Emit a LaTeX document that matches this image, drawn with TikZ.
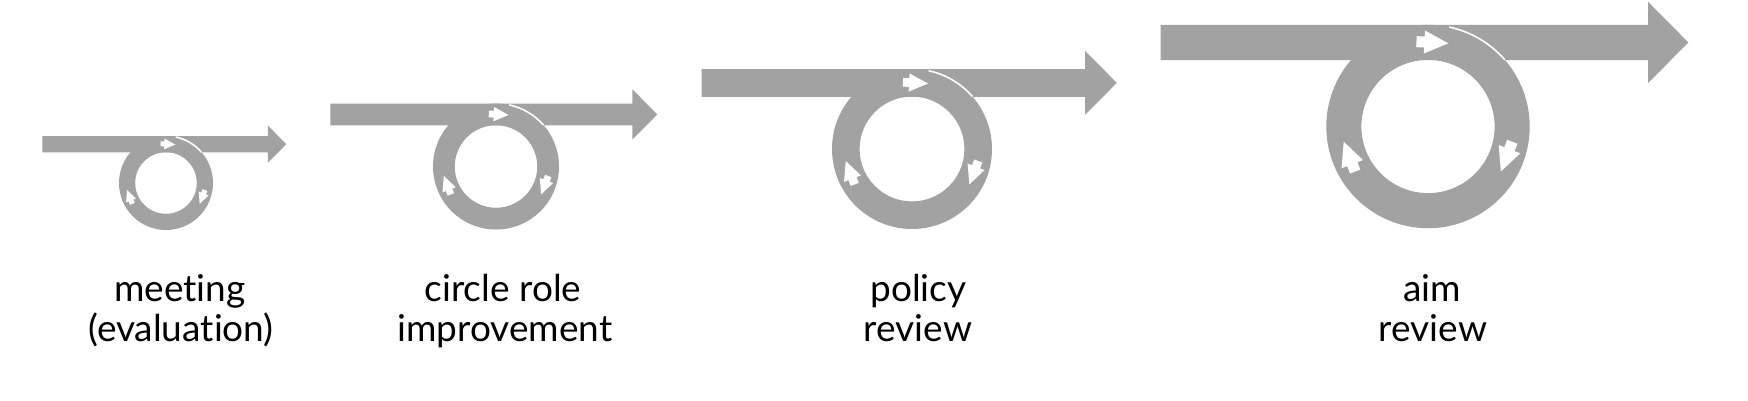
\documentclass[tikz,border=0pt]{standalone}
\usepackage{fontspec}
\setmainfont{Lato}[Ligatures=NoCommon]
\definecolor{loopgray}{RGB}{162,162,162}
\tikzset{
  lbl/.style={anchor=base, inner sep=0pt, font=\fontsize{37}{40}\selectfont, text=black},
  ringband/.style={fill=loopgray, even odd rule},
  shaftband/.style={fill=loopgray},
  seam/.style={draw=white, line width=1.6pt},
  tinyarrow/.style={fill=white},
}
\newcommand\loopicon[3]{%
  \begin{scope}[shift={(#1,#2)}, scale=#3, yscale=-1]
    \path[shaftband] (-2.63,1) -- (2.165,1) -- (2.165,1.225) -- (2.56,0.8265)
       -- (2.165,0.428) -- (2.165,0.653) -- (-2.63,0.653) -- cycle;
    \path[ringband] (0,0) circle[radius=1] (0,0) circle[radius=0.655];
    \path[seam] (78:1) arc[start angle=78, end angle=41, radius=1];
    \foreach \a in {87,-21,201} {
      \path[tinyarrow, shift={(\a:0.8275)}, rotate=90-\a]
        (-0.157,-0.054) -- (-0.079,-0.054) -- (-0.079,-0.113) -- (0.157,0)
        -- (-0.079,0.113) -- (-0.079,0.054) -- (-0.157,0.054) -- cycle;
    }
  \end{scope}}
\begin{document}
\begin{tikzpicture}[x=1pt,y=-1pt]
  \useasboundingbox (0,0) rectangle (1748,400);
  \fill[white] (0,0) rectangle (1748,400);
  \loopicon{166}{183}{47}
  \loopicon{496}{166.5}{63}
  \loopicon{912}{149}{80}
  \loopicon{1428}{126.5}{101.7}
  \node[lbl] (m1) at (180,301.5) {meeting};
  \node[lbl] (m2) at (181,341.5) {(evaluation)};
  \node[lbl] (c1) at (503,301.5) {circle role};
  \node[lbl] (c2) at (505,341.5) {improvement};
  \node[lbl] (p1) at (918.5,301.5) {policy};
  \node[lbl] (p2) at (918,341.5) {review};
  \node[lbl] (a1) at (1432,301.5) {aim};
  \node[lbl] (a2) at (1433,341.5) {review};
\end{tikzpicture}
\end{document}
